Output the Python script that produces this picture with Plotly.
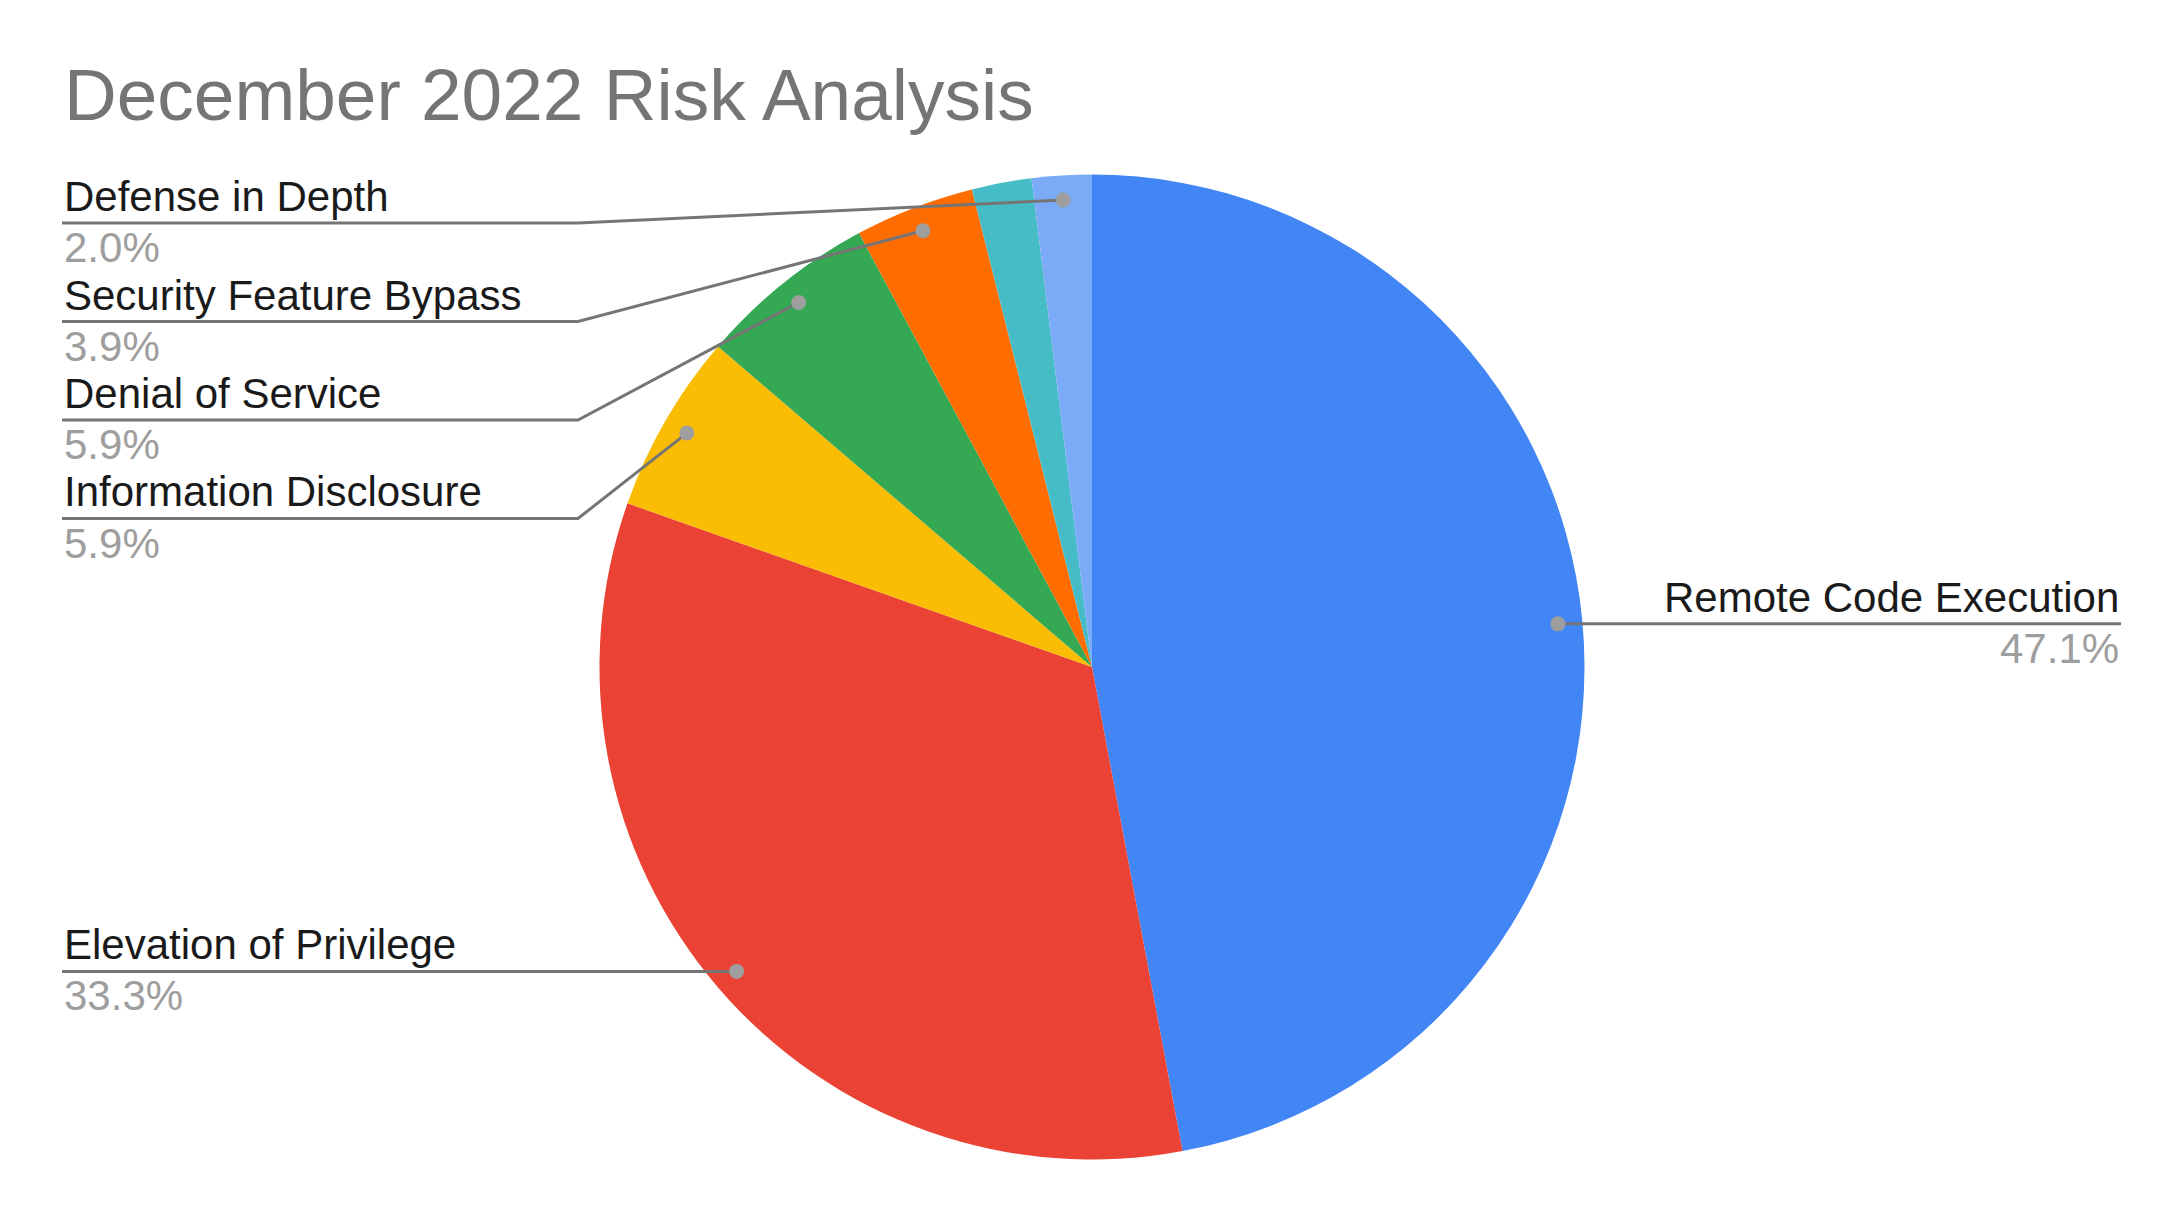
import math

import plotly.graph_objects as go

# slice data, clockwise from 12 o'clock
categories = ["Remote Code Execution", "Elevation of Privilege", "Information Disclosure",
              "Denial of Service", "Security Feature Bypass", "Spoofing", "Defense in Depth"]
counts = [24, 17, 3, 3, 2, 1, 1]
colors = ["#4285F4", "#EA4335", "#FBBC04", "#34A853", "#FF6D01", "#46BDC6", "#7BAAF7"]

# slices that get a callout stacked in the left column (top to bottom)
stacked_labels = ["Defense in Depth", "Security Feature Bypass", "Denial of Service", "Information Disclosure"]
# slices whose callout runs straight out sideways
side_labels = ["Remote Code Execution", "Elevation of Privilege"]

title = "December 2022 Risk Analysis"

# page geometry (pixels of the screenshot); the page body adds an 8px margin
W, H = 2183, 1222
OFF = 8
CX, CY, R = 1092 - OFF, 667 - OFF, 492.5
FONT = "Liberation Sans, Arial, sans-serif"
LINE_COLOR = "#757575"
DOT_COLOR = "#9e9e9e"
LEFT_X = 62 - OFF
RIGHT_X = 2121 - OFF
ELBOW_X = 578 - OFF
ROW_TOP, ROW_STEP = 223 - OFF, 98.5
LABEL_SIZE = 42

total = sum(counts)


def px(x):
    return x / W


def py(y):
    return 1 - y / H


def dot_position(name):
    # middle of the slice, a bit inside the rim
    i = categories.index(name)
    start = sum(counts[:i])
    mid = (start + counts[i] / 2) / total * 2 * math.pi
    return CX + 0.95 * R * math.sin(mid), CY - 0.95 * R * math.cos(mid)


fig = go.Figure()

fig.add_trace(go.Pie(
    labels=categories,
    values=counts,
    sort=False,
    direction="clockwise",
    rotation=0,
    marker=dict(colors=colors, line=dict(width=0)),
    textinfo="none",
    hoverinfo="label+percent",
    showlegend=False,
    domain=dict(x=[px(CX - R), px(CX + R)], y=[py(CY + R), py(CY - R)]),
))

callouts = []
for i, name in enumerate(stacked_labels):
    dx, dy = dot_position(name)
    row_y = ROW_TOP + i * ROW_STEP
    callouts.append((name, [dx, ELBOW_X, LEFT_X], [dy, row_y, row_y], LEFT_X, "left", row_y))
for name in side_labels:
    dx, dy = dot_position(name)
    end_x = RIGHT_X if dx > CX else LEFT_X
    anchor = "right" if dx > CX else "left"
    callouts.append((name, [dx, end_x], [dy, dy], end_x, anchor, dy))

shapes = []
annotations = []
for name, xs, ys, tx, anchor, line_y in callouts:
    pct = counts[categories.index(name)] / total * 100
    path = "M " + " L ".join(f"{px(x):.5f},{py(y):.5f}" for x, y in zip(xs, ys))
    shapes.append(dict(type="path", path=path, xref="paper", yref="paper", layer="above",
                       line=dict(color=LINE_COLOR, width=3)))
    shapes.append(dict(type="circle", xref="paper", yref="paper", layer="above",
                       x0=px(xs[0] - 7.5), x1=px(xs[0] + 7.5), y0=py(ys[0] + 7.5), y1=py(ys[0] - 7.5),
                       fillcolor=DOT_COLOR, line=dict(width=0)))
    annotations.append(dict(
        x=px(tx), y=py(line_y - 1), xref="paper", yref="paper", xanchor=anchor, yanchor="bottom",
        text=name, showarrow=False, font=dict(family=FONT, size=LABEL_SIZE, color="#1a1a1a"),
    ))
    annotations.append(dict(
        x=px(tx), y=py(line_y - 1), xref="paper", yref="paper", xanchor=anchor, yanchor="top",
        text=f"{pct:.1f}%", showarrow=False, font=dict(family=FONT, size=LABEL_SIZE, color="#9e9e9e"),
    ))

annotations.append(dict(
    x=px(LEFT_X), y=py(137 - OFF), xref="paper", yref="paper", xanchor="left", yanchor="bottom",
    text=title, showarrow=False, font=dict(family=FONT, size=73, color="#757575"),
))

fig.update_layout(
    width=W,
    height=H,
    margin=dict(l=0, r=0, t=0, b=0),
    paper_bgcolor="white",
    plot_bgcolor="white",
    shapes=shapes,
    annotations=annotations,
)

fig.write_html("out.html")
